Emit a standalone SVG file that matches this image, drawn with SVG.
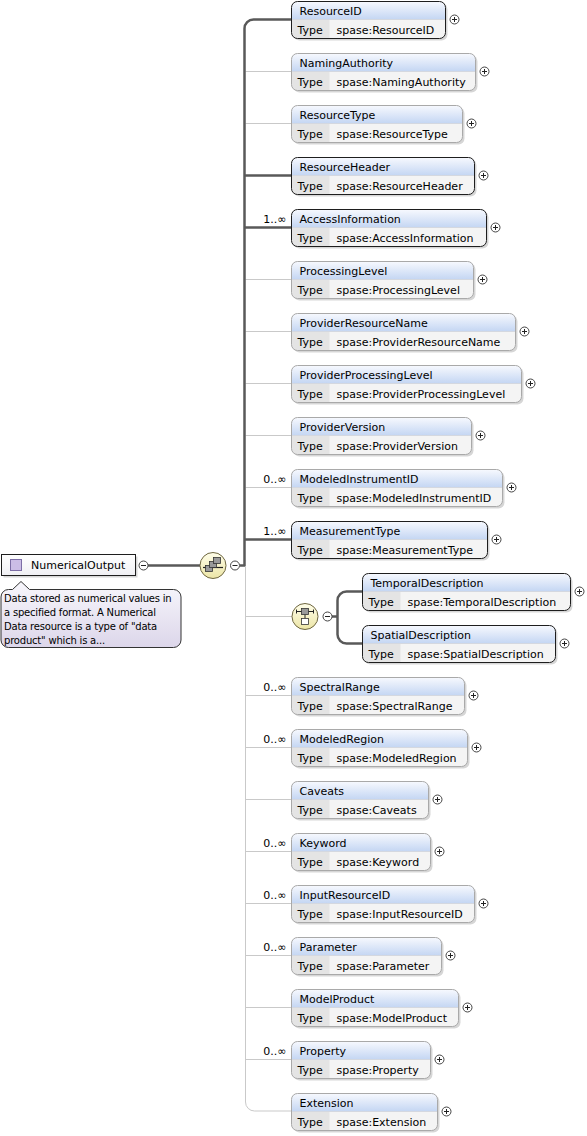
<svg xmlns="http://www.w3.org/2000/svg" width="587" height="1136" viewBox="0 0 587 1136">
<defs>
<linearGradient id="gh" x1="0" y1="0" x2="0" y2="1"><stop offset="0" stop-color="#f7f9fe"/><stop offset="1" stop-color="#c4d6f3"/></linearGradient>
<linearGradient id="gy" x1="0" y1="0" x2="0" y2="1"><stop offset="0" stop-color="#fffeea"/><stop offset="1" stop-color="#ece5a6"/></linearGradient>
<linearGradient id="ga" x1="0" y1="0" x2="0" y2="1"><stop offset="0" stop-color="#f8f7fc"/><stop offset="1" stop-color="#dcd6ea"/></linearGradient>
<linearGradient id="gr" x1="0" y1="0" x2="0" y2="1"><stop offset="0" stop-color="#ffffff"/><stop offset="1" stop-color="#f0f0f4"/></linearGradient>
<style>
.sh{fill:#000;opacity:.16}
.rw{fill:#f4f4f4}
.hd{fill:url(#gh)}
.tc{fill:#e4e4e4}
.sp{stroke:#d4d8e0;stroke-width:1}
.bd{fill:none;stroke:#a9a9a9;stroke-width:1}
.rq .bd{stroke:#1e1e1e}
.t{font-family:'DejaVu Sans',sans-serif;font-size:11px;fill:#000}
.oc{font-family:'DejaVu Sans',sans-serif;font-size:11px;fill:#000;text-anchor:end}
.an{font-family:'DejaVu Sans',sans-serif;font-size:10px;letter-spacing:-0.2px;fill:#000}
.pl{fill:#fff;stroke:#444;stroke-width:1}
.px{stroke:#222;stroke-width:1;fill:none}
.c1{fill:none;stroke:#595959;stroke-width:2.5}
.c0{fill:none;stroke:#c9c9c9;stroke-width:1}
</style>
</defs>

<g id="connectors">
<path class="c0" d="M245.5,566V1102a9,9 0 0 0 9,9H291"/>
<path class="c0" d="M245.5,71.5H291M245.5,123.5H291M245.5,279.5H291M245.5,331.5H291M245.5,383.5H291M245.5,435.5H291M245.5,487.5H291"/>
<path class="c0" d="M245.5,616.5H292M245.5,695.5H291M245.5,747.5H291M245.5,799.5H291M245.5,851.5H291M245.5,903.5H291M245.5,955.5H291M245.5,1007.5H291M245.5,1059.5H291"/>
<path class="c1" d="M291,19.5H253.5a9,9 0 0 0 -9,9V566"/>
<path class="c1" d="M240,565.5H245M244.5,175.5H291M244.5,227.5H291M244.5,539.5H291"/>
<path class="c1" d="M148,565.5H200"/>
<path class="c1" d="M332,616.5H337.5M362,591.5H346.5a9,9 0 0 0 -9,9V634.5a9,9 0 0 0 9,9H362"/>
</g>

<g id="NumericalOutput">
<rect class="sh" x="3.5" y="556.5" width="134" height="21"/>
<rect x="1.5" y="554.5" width="134" height="21" fill="url(#gr)" stroke="#1e1e1e"/>
<rect x="10.5" y="559.5" width="11" height="11" fill="#cbbde6" stroke="#7d6ea6"/>
<text class="t" x="31" y="569">NumericalOutput</text>
<circle class="pl" cx="143.5" cy="565.5" r="4.5"/><path class="px" d="M141,565.5h5"/>
</g>

<g id="annotation">
<path d="M8.5,589.5H12.5L21,581.5L29.5,589.5H173.5a7.5,7.5 0 0 1 7.5,7.5V640a7.5,7.5 0 0 1 -7.5,7.5H8.5a7.5,7.5 0 0 1 -7.5,-7.5V597a7.5,7.5 0 0 1 7.5,-7.5Z" fill="url(#ga)" stroke="#333"/>
<text class="an" x="4" y="602">Data stored as numerical values in</text>
<text class="an" x="4" y="616">a specified format. A Numerical</text>
<text class="an" x="4" y="630">Data resource is a type of "data</text>
<text class="an" x="4" y="644">product" which is a...</text>
</g>

<g id="sequence">
<circle cx="213" cy="565.5" r="13" fill="url(#gy)" stroke="#6e6640"/>
<path d="M203,567.5H223" stroke="#222" stroke-width="1.2"/>
<rect x="205.5" y="565.5" width="7" height="6" fill="#9a9a9a" stroke="#333" stroke-width=".8"/>
<rect x="209.5" y="561.5" width="7" height="6" fill="#9a9a9a" stroke="#333" stroke-width=".8"/>
<rect x="213.5" y="557.5" width="7" height="6" fill="#9a9a9a" stroke="#333" stroke-width=".8"/>
<circle class="pl" cx="235" cy="565.5" r="4.5"/><path class="px" d="M232.5,565.5h5"/>
</g>

<g id="choice">
<circle cx="305" cy="616.5" r="13" fill="url(#gy)" stroke="#6e6640"/>
<path d="M296,611.5H314M296.5,609.5v4M313.5,609.5v4M305,614.5v4" stroke="#222" stroke-width="1"/>
<rect x="301.5" y="608.5" width="7" height="6" fill="#9a9a9a" stroke="#333" stroke-width=".8"/>
<rect x="301.5" y="618.5" width="7" height="6" fill="#fff" stroke="#333" stroke-width=".8"/>
<circle class="pl" cx="327.5" cy="616.5" r="4.5"/><path class="px" d="M325,616.5h5"/>
</g>

<g id="ResourceID" class="rq" transform="translate(291.5,1.5)">
<rect class="sh" x="2" y="2" width="154" height="37" rx="6"/><rect class="rw" width="154" height="37" rx="6"/>
<path class="hd" d="M0,18V6a6,6 0 0 1 6,-6H148a6,6 0 0 1 6,6V18Z"/><path class="tc" d="M0,18H38V37H6a6,6 0 0 1 -6,-6Z"/>
<path class="sp" d="M0,18H154"/><rect class="bd" width="154" height="37" rx="6"/>
<text class="t" x="8" y="13">ResourceID</text><text class="t" x="6" y="32">Type</text><text class="t" x="45" y="32">spase:ResourceID</text>
<circle class="pl" cx="163" cy="18" r="4.5"/><path class="px" d="M160.5,18h5M163,15.5v5"/>
</g>

<g id="NamingAuthority" transform="translate(291.5,53.5)">
<rect class="sh" x="2" y="2" width="184" height="37" rx="6"/><rect class="rw" width="184" height="37" rx="6"/>
<path class="hd" d="M0,18V6a6,6 0 0 1 6,-6H178a6,6 0 0 1 6,6V18Z"/><path class="tc" d="M0,18H38V37H6a6,6 0 0 1 -6,-6Z"/>
<path class="sp" d="M0,18H184"/><rect class="bd" width="184" height="37" rx="6"/>
<text class="t" x="8" y="13">NamingAuthority</text><text class="t" x="6" y="32">Type</text><text class="t" x="45" y="32">spase:NamingAuthority</text>
<circle class="pl" cx="193" cy="18" r="4.5"/><path class="px" d="M190.5,18h5M193,15.5v5"/>
</g>

<g id="ResourceType" transform="translate(291.5,105.5)">
<rect class="sh" x="2" y="2" width="171" height="37" rx="6"/><rect class="rw" width="171" height="37" rx="6"/>
<path class="hd" d="M0,18V6a6,6 0 0 1 6,-6H165a6,6 0 0 1 6,6V18Z"/><path class="tc" d="M0,18H38V37H6a6,6 0 0 1 -6,-6Z"/>
<path class="sp" d="M0,18H171"/><rect class="bd" width="171" height="37" rx="6"/>
<text class="t" x="8" y="13">ResourceType</text><text class="t" x="6" y="32">Type</text><text class="t" x="45" y="32">spase:ResourceType</text>
<circle class="pl" cx="180" cy="18" r="4.5"/><path class="px" d="M177.5,18h5M180,15.5v5"/>
</g>

<g id="ResourceHeader" class="rq" transform="translate(291.5,157.5)">
<rect class="sh" x="2" y="2" width="183" height="37" rx="6"/><rect class="rw" width="183" height="37" rx="6"/>
<path class="hd" d="M0,18V6a6,6 0 0 1 6,-6H177a6,6 0 0 1 6,6V18Z"/><path class="tc" d="M0,18H38V37H6a6,6 0 0 1 -6,-6Z"/>
<path class="sp" d="M0,18H183"/><rect class="bd" width="183" height="37" rx="6"/>
<text class="t" x="8" y="13">ResourceHeader</text><text class="t" x="6" y="32">Type</text><text class="t" x="45" y="32">spase:ResourceHeader</text>
<circle class="pl" cx="192" cy="18" r="4.5"/><path class="px" d="M189.5,18h5M192,15.5v5"/>
</g>

<g id="AccessInformation" class="rq" transform="translate(291.5,209.5)">
<rect class="sh" x="2" y="2" width="195" height="37" rx="6"/><rect class="rw" width="195" height="37" rx="6"/>
<path class="hd" d="M0,18V6a6,6 0 0 1 6,-6H189a6,6 0 0 1 6,6V18Z"/><path class="tc" d="M0,18H38V37H6a6,6 0 0 1 -6,-6Z"/>
<path class="sp" d="M0,18H195"/><rect class="bd" width="195" height="37" rx="6"/>
<text class="t" x="8" y="13">AccessInformation</text><text class="t" x="6" y="32">Type</text><text class="t" x="45" y="32">spase:AccessInformation</text>
<circle class="pl" cx="204" cy="18" r="4.5"/><path class="px" d="M201.5,18h5M204,15.5v5"/>
<text class="oc" x="-5" y="13">1..∞</text>
</g>

<g id="ProcessingLevel" transform="translate(291.5,261.5)">
<rect class="sh" x="2" y="2" width="182" height="37" rx="6"/><rect class="rw" width="182" height="37" rx="6"/>
<path class="hd" d="M0,18V6a6,6 0 0 1 6,-6H176a6,6 0 0 1 6,6V18Z"/><path class="tc" d="M0,18H38V37H6a6,6 0 0 1 -6,-6Z"/>
<path class="sp" d="M0,18H182"/><rect class="bd" width="182" height="37" rx="6"/>
<text class="t" x="8" y="13">ProcessingLevel</text><text class="t" x="6" y="32">Type</text><text class="t" x="45" y="32">spase:ProcessingLevel</text>
<circle class="pl" cx="191" cy="18" r="4.5"/><path class="px" d="M188.5,18h5M191,15.5v5"/>
</g>

<g id="ProviderResourceName" transform="translate(291.5,313.5)">
<rect class="sh" x="2" y="2" width="224" height="37" rx="6"/><rect class="rw" width="224" height="37" rx="6"/>
<path class="hd" d="M0,18V6a6,6 0 0 1 6,-6H218a6,6 0 0 1 6,6V18Z"/><path class="tc" d="M0,18H38V37H6a6,6 0 0 1 -6,-6Z"/>
<path class="sp" d="M0,18H224"/><rect class="bd" width="224" height="37" rx="6"/>
<text class="t" x="8" y="13">ProviderResourceName</text><text class="t" x="6" y="32">Type</text><text class="t" x="45" y="32">spase:ProviderResourceName</text>
<circle class="pl" cx="233" cy="18" r="4.5"/><path class="px" d="M230.5,18h5M233,15.5v5"/>
</g>

<g id="ProviderProcessingLevel" transform="translate(291.5,365.5)">
<rect class="sh" x="2" y="2" width="230" height="37" rx="6"/><rect class="rw" width="230" height="37" rx="6"/>
<path class="hd" d="M0,18V6a6,6 0 0 1 6,-6H224a6,6 0 0 1 6,6V18Z"/><path class="tc" d="M0,18H38V37H6a6,6 0 0 1 -6,-6Z"/>
<path class="sp" d="M0,18H230"/><rect class="bd" width="230" height="37" rx="6"/>
<text class="t" x="8" y="13">ProviderProcessingLevel</text><text class="t" x="6" y="32">Type</text><text class="t" x="45" y="32">spase:ProviderProcessingLevel</text>
<circle class="pl" cx="239" cy="18" r="4.5"/><path class="px" d="M236.5,18h5M239,15.5v5"/>
</g>

<g id="ProviderVersion" transform="translate(291.5,417.5)">
<rect class="sh" x="2" y="2" width="180" height="37" rx="6"/><rect class="rw" width="180" height="37" rx="6"/>
<path class="hd" d="M0,18V6a6,6 0 0 1 6,-6H174a6,6 0 0 1 6,6V18Z"/><path class="tc" d="M0,18H38V37H6a6,6 0 0 1 -6,-6Z"/>
<path class="sp" d="M0,18H180"/><rect class="bd" width="180" height="37" rx="6"/>
<text class="t" x="8" y="13">ProviderVersion</text><text class="t" x="6" y="32">Type</text><text class="t" x="45" y="32">spase:ProviderVersion</text>
<circle class="pl" cx="189" cy="18" r="4.5"/><path class="px" d="M186.5,18h5M189,15.5v5"/>
</g>

<g id="ModeledInstrumentID" transform="translate(291.5,469.5)">
<rect class="sh" x="2" y="2" width="211" height="37" rx="6"/><rect class="rw" width="211" height="37" rx="6"/>
<path class="hd" d="M0,18V6a6,6 0 0 1 6,-6H205a6,6 0 0 1 6,6V18Z"/><path class="tc" d="M0,18H38V37H6a6,6 0 0 1 -6,-6Z"/>
<path class="sp" d="M0,18H211"/><rect class="bd" width="211" height="37" rx="6"/>
<text class="t" x="8" y="13">ModeledInstrumentID</text><text class="t" x="6" y="32">Type</text><text class="t" x="45" y="32">spase:ModeledInstrumentID</text>
<circle class="pl" cx="220" cy="18" r="4.5"/><path class="px" d="M217.5,18h5M220,15.5v5"/>
<text class="oc" x="-5" y="13">0..∞</text>
</g>

<g id="MeasurementType" class="rq" transform="translate(291.5,521.5)">
<rect class="sh" x="2" y="2" width="196" height="37" rx="6"/><rect class="rw" width="196" height="37" rx="6"/>
<path class="hd" d="M0,18V6a6,6 0 0 1 6,-6H190a6,6 0 0 1 6,6V18Z"/><path class="tc" d="M0,18H38V37H6a6,6 0 0 1 -6,-6Z"/>
<path class="sp" d="M0,18H196"/><rect class="bd" width="196" height="37" rx="6"/>
<text class="t" x="8" y="13">MeasurementType</text><text class="t" x="6" y="32">Type</text><text class="t" x="45" y="32">spase:MeasurementType</text>
<circle class="pl" cx="205" cy="18" r="4.5"/><path class="px" d="M202.5,18h5M205,15.5v5"/>
<text class="oc" x="-5" y="13">1..∞</text>
</g>

<g id="TemporalDescription" class="rq" transform="translate(362.5,573.5)">
<rect class="sh" x="2" y="2" width="208" height="37" rx="6"/><rect class="rw" width="208" height="37" rx="6"/>
<path class="hd" d="M0,18V6a6,6 0 0 1 6,-6H202a6,6 0 0 1 6,6V18Z"/><path class="tc" d="M0,18H38V37H6a6,6 0 0 1 -6,-6Z"/>
<path class="sp" d="M0,18H208"/><rect class="bd" width="208" height="37" rx="6"/>
<text class="t" x="8" y="13">TemporalDescription</text><text class="t" x="6" y="32">Type</text><text class="t" x="45" y="32">spase:TemporalDescription</text>
<circle class="pl" cx="217" cy="18" r="4.5"/><path class="px" d="M214.5,18h5M217,15.5v5"/>
</g>

<g id="SpatialDescription" class="rq" transform="translate(362.5,625.5)">
<rect class="sh" x="2" y="2" width="193" height="37" rx="6"/><rect class="rw" width="193" height="37" rx="6"/>
<path class="hd" d="M0,18V6a6,6 0 0 1 6,-6H187a6,6 0 0 1 6,6V18Z"/><path class="tc" d="M0,18H38V37H6a6,6 0 0 1 -6,-6Z"/>
<path class="sp" d="M0,18H193"/><rect class="bd" width="193" height="37" rx="6"/>
<text class="t" x="8" y="13">SpatialDescription</text><text class="t" x="6" y="32">Type</text><text class="t" x="45" y="32">spase:SpatialDescription</text>
<circle class="pl" cx="202" cy="18" r="4.5"/><path class="px" d="M199.5,18h5M202,15.5v5"/>
</g>

<g id="SpectralRange" transform="translate(291.5,677.5)">
<rect class="sh" x="2" y="2" width="173" height="37" rx="6"/><rect class="rw" width="173" height="37" rx="6"/>
<path class="hd" d="M0,18V6a6,6 0 0 1 6,-6H167a6,6 0 0 1 6,6V18Z"/><path class="tc" d="M0,18H38V37H6a6,6 0 0 1 -6,-6Z"/>
<path class="sp" d="M0,18H173"/><rect class="bd" width="173" height="37" rx="6"/>
<text class="t" x="8" y="13">SpectralRange</text><text class="t" x="6" y="32">Type</text><text class="t" x="45" y="32">spase:SpectralRange</text>
<circle class="pl" cx="182" cy="18" r="4.5"/><path class="px" d="M179.5,18h5M182,15.5v5"/>
<text class="oc" x="-5" y="13">0..∞</text>
</g>

<g id="ModeledRegion" transform="translate(291.5,729.5)">
<rect class="sh" x="2" y="2" width="176" height="37" rx="6"/><rect class="rw" width="176" height="37" rx="6"/>
<path class="hd" d="M0,18V6a6,6 0 0 1 6,-6H170a6,6 0 0 1 6,6V18Z"/><path class="tc" d="M0,18H38V37H6a6,6 0 0 1 -6,-6Z"/>
<path class="sp" d="M0,18H176"/><rect class="bd" width="176" height="37" rx="6"/>
<text class="t" x="8" y="13">ModeledRegion</text><text class="t" x="6" y="32">Type</text><text class="t" x="45" y="32">spase:ModeledRegion</text>
<circle class="pl" cx="185" cy="18" r="4.5"/><path class="px" d="M182.5,18h5M185,15.5v5"/>
<text class="oc" x="-5" y="13">0..∞</text>
</g>

<g id="Caveats" transform="translate(291.5,781.5)">
<rect class="sh" x="2" y="2" width="137" height="37" rx="6"/><rect class="rw" width="137" height="37" rx="6"/>
<path class="hd" d="M0,18V6a6,6 0 0 1 6,-6H131a6,6 0 0 1 6,6V18Z"/><path class="tc" d="M0,18H38V37H6a6,6 0 0 1 -6,-6Z"/>
<path class="sp" d="M0,18H137"/><rect class="bd" width="137" height="37" rx="6"/>
<text class="t" x="8" y="13">Caveats</text><text class="t" x="6" y="32">Type</text><text class="t" x="45" y="32">spase:Caveats</text>
<circle class="pl" cx="146" cy="18" r="4.5"/><path class="px" d="M143.5,18h5M146,15.5v5"/>
</g>

<g id="Keyword" transform="translate(291.5,833.5)">
<rect class="sh" x="2" y="2" width="139" height="37" rx="6"/><rect class="rw" width="139" height="37" rx="6"/>
<path class="hd" d="M0,18V6a6,6 0 0 1 6,-6H133a6,6 0 0 1 6,6V18Z"/><path class="tc" d="M0,18H38V37H6a6,6 0 0 1 -6,-6Z"/>
<path class="sp" d="M0,18H139"/><rect class="bd" width="139" height="37" rx="6"/>
<text class="t" x="8" y="13">Keyword</text><text class="t" x="6" y="32">Type</text><text class="t" x="45" y="32">spase:Keyword</text>
<circle class="pl" cx="148" cy="18" r="4.5"/><path class="px" d="M145.5,18h5M148,15.5v5"/>
<text class="oc" x="-5" y="13">0..∞</text>
</g>

<g id="InputResourceID" transform="translate(291.5,885.5)">
<rect class="sh" x="2" y="2" width="183" height="37" rx="6"/><rect class="rw" width="183" height="37" rx="6"/>
<path class="hd" d="M0,18V6a6,6 0 0 1 6,-6H177a6,6 0 0 1 6,6V18Z"/><path class="tc" d="M0,18H38V37H6a6,6 0 0 1 -6,-6Z"/>
<path class="sp" d="M0,18H183"/><rect class="bd" width="183" height="37" rx="6"/>
<text class="t" x="8" y="13">InputResourceID</text><text class="t" x="6" y="32">Type</text><text class="t" x="45" y="32">spase:InputResourceID</text>
<circle class="pl" cx="192" cy="18" r="4.5"/><path class="px" d="M189.5,18h5M192,15.5v5"/>
<text class="oc" x="-5" y="13">0..∞</text>
</g>

<g id="Parameter" transform="translate(291.5,937.5)">
<rect class="sh" x="2" y="2" width="150" height="37" rx="6"/><rect class="rw" width="150" height="37" rx="6"/>
<path class="hd" d="M0,18V6a6,6 0 0 1 6,-6H144a6,6 0 0 1 6,6V18Z"/><path class="tc" d="M0,18H38V37H6a6,6 0 0 1 -6,-6Z"/>
<path class="sp" d="M0,18H150"/><rect class="bd" width="150" height="37" rx="6"/>
<text class="t" x="8" y="13">Parameter</text><text class="t" x="6" y="32">Type</text><text class="t" x="45" y="32">spase:Parameter</text>
<circle class="pl" cx="159" cy="18" r="4.5"/><path class="px" d="M156.5,18h5M159,15.5v5"/>
<text class="oc" x="-5" y="13">0..∞</text>
</g>

<g id="ModelProduct" transform="translate(291.5,989.5)">
<rect class="sh" x="2" y="2" width="167" height="37" rx="6"/><rect class="rw" width="167" height="37" rx="6"/>
<path class="hd" d="M0,18V6a6,6 0 0 1 6,-6H161a6,6 0 0 1 6,6V18Z"/><path class="tc" d="M0,18H38V37H6a6,6 0 0 1 -6,-6Z"/>
<path class="sp" d="M0,18H167"/><rect class="bd" width="167" height="37" rx="6"/>
<text class="t" x="8" y="13">ModelProduct</text><text class="t" x="6" y="32">Type</text><text class="t" x="45" y="32">spase:ModelProduct</text>
<circle class="pl" cx="176" cy="18" r="4.5"/><path class="px" d="M173.5,18h5M176,15.5v5"/>
</g>

<g id="Property" transform="translate(291.5,1041.5)">
<rect class="sh" x="2" y="2" width="139" height="37" rx="6"/><rect class="rw" width="139" height="37" rx="6"/>
<path class="hd" d="M0,18V6a6,6 0 0 1 6,-6H133a6,6 0 0 1 6,6V18Z"/><path class="tc" d="M0,18H38V37H6a6,6 0 0 1 -6,-6Z"/>
<path class="sp" d="M0,18H139"/><rect class="bd" width="139" height="37" rx="6"/>
<text class="t" x="8" y="13">Property</text><text class="t" x="6" y="32">Type</text><text class="t" x="45" y="32">spase:Property</text>
<circle class="pl" cx="148" cy="18" r="4.5"/><path class="px" d="M145.5,18h5M148,15.5v5"/>
<text class="oc" x="-5" y="13">0..∞</text>
</g>

<g id="Extension" transform="translate(291.5,1093.5)">
<rect class="sh" x="2" y="2" width="146" height="37" rx="6"/><rect class="rw" width="146" height="37" rx="6"/>
<path class="hd" d="M0,18V6a6,6 0 0 1 6,-6H140a6,6 0 0 1 6,6V18Z"/><path class="tc" d="M0,18H38V37H6a6,6 0 0 1 -6,-6Z"/>
<path class="sp" d="M0,18H146"/><rect class="bd" width="146" height="37" rx="6"/>
<text class="t" x="8" y="13">Extension</text><text class="t" x="6" y="32">Type</text><text class="t" x="45" y="32">spase:Extension</text>
<circle class="pl" cx="155" cy="18" r="4.5"/><path class="px" d="M152.5,18h5M155,15.5v5"/>
</g>
</svg>
